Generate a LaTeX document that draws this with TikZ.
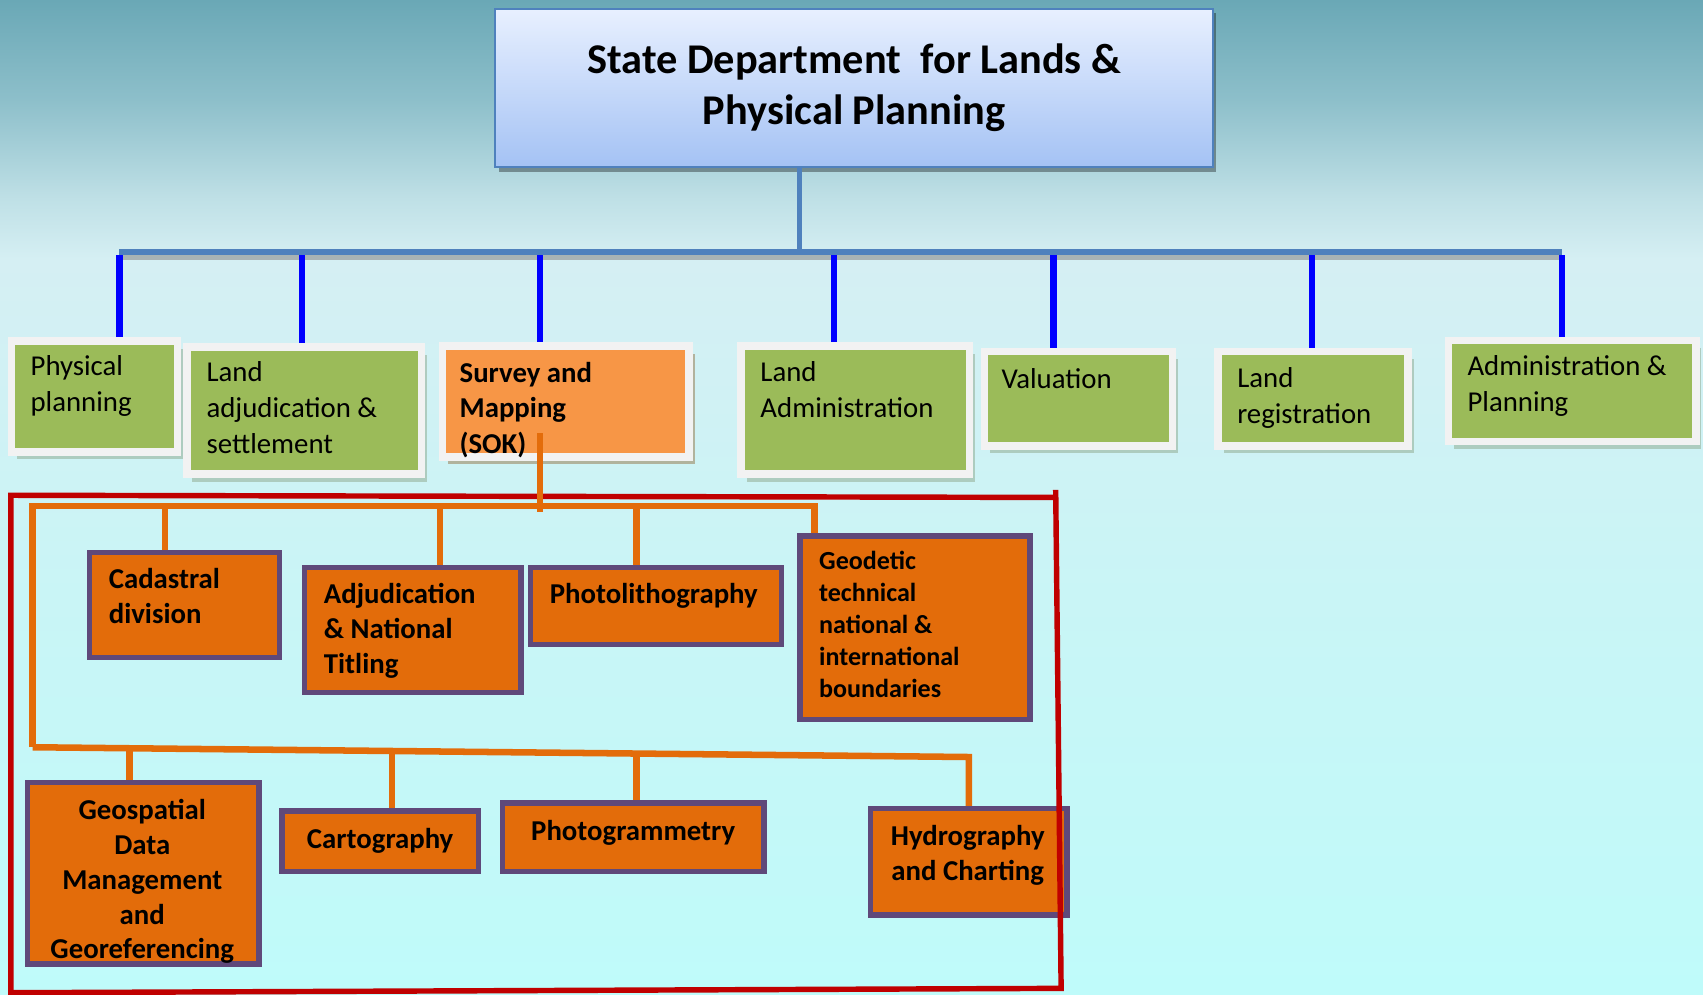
\documentclass[tikz,border=0pt]{standalone}
\usepackage{fontspec}
\setmainfont{Carlito}
\usetikzlibrary{shadows}

\definecolor{bgtop}{HTML}{6AA8B6}
\definecolor{bgsky}{HTML}{8DBFCA}
\definecolor{bgpale}{HTML}{BFE0E6}
\definecolor{bglight}{HTML}{D5EFF3}
\definecolor{bgmid}{HTML}{C9F5F6}
\definecolor{bgbot}{HTML}{BFFBFA}
\definecolor{headtop}{HTML}{E8F0FF}
\definecolor{headbot}{HTML}{A4C2F4}
\definecolor{headedge}{HTML}{4F81BD}
\definecolor{unitgreen}{HTML}{9BBB59}
\definecolor{framegray}{HTML}{F2F2F2}
\definecolor{greenshade}{HTML}{8EA78B}
\definecolor{sokorange}{HTML}{F79646}
\definecolor{sokshade}{HTML}{B59B7C}
\definecolor{deptorange}{HTML}{E36C0A}
\definecolor{deptpurple}{HTML}{5F497A}
\definecolor{framered}{HTML}{C00000}

\pgfdeclareverticalshading{skyfade}{100bp}{color(0bp)=(bgbot); color(25bp)=(bgbot); color(45bp)=(bgmid); color(62bp)=(bglight); color(65bp)=(bgpale); color(70bp)=(bgsky); color(75bp)=(bgtop); color(100bp)=(bgtop)}

\tikzset{
  headbox/.style={rectangle, draw=headedge, line width=2pt, top color=headtop, bottom color=headbot,
    font=\bfseries\fontsize{39}{47}\selectfont, align=center, inner sep=0pt,
    drop shadow={shadow xshift=3pt, shadow yshift=-4pt, fill=black, opacity=0.35}},
  unitbox/.style={rectangle, draw=framegray, line width=7pt, fill=unitgreen, inner sep=0pt,
    drop shadow={shadow xshift=5pt, shadow yshift=-7pt, fill=greenshade}},
  sokbox/.style={unitbox, fill=sokorange,
    drop shadow={shadow xshift=5pt, shadow yshift=-7pt, fill=sokshade}},
  unittext/.style={font=\fontsize{26.5}{33}\selectfont, align=left, inner sep=0pt, anchor=north west},
  deptbox/.style={rectangle, draw=deptpurple, line width=5pt, fill=deptorange, inner sep=0pt},
  depttext/.style={font=\bfseries\fontsize{26.5}{32}\selectfont, align=left, inner sep=0pt, anchor=north west},
  stem/.style={draw=headedge, line width=5pt},
  stemshade/.style={draw=black!45, line width=4pt, opacity=0.6},
  drop/.style={draw=blue, line width=6pt},
  obranch/.style={draw=deptorange, line width=6pt, line join=miter},
  redframe/.style={draw=framered, line width=5pt}
}

\begin{document}
\begin{tikzpicture}[x=1pt, y=-1pt]
		%%%%% BACKGROUND %%%%%
		\useasboundingbox (0,0) rectangle (1568,916);
		\shade[shading=skyfade] (0,0) rectangle (1568,916);
		
		%%%%% HEAD %%%%%
		\node[headbox, minimum width=661pt, minimum height=146pt] (head) at (786.5,81) {State Department\ \ for Lands \&\\Physical Planning};
		
		\coordinate (hub) at (736,232);
		\coordinate (busL) at (110,232);
		\coordinate (busR) at (1438,232);
		
		%%%%% UNITS %%%%%
		\node[unitbox, minimum width=153pt, minimum height=102pt] (phys) at (87,365) {};
		\node[unittext] (physT) at (28,327) {Physical\\planning};
		
		\node[unitbox, minimum width=216pt, minimum height=117pt] (adjset) at (280,378) {};
		\node[unittext] (adjsetT) at (190,333) {Land\\adjudication \&\\settlement};
		
		\node[sokbox, minimum width=227pt, minimum height=102pt] (sok) at (521,369.5) {};
		\node[unittext, font=\bfseries\fontsize{26.5}{33}\selectfont] (sokT) at (423,333) {Survey and\\Mapping\\(SOK)};
		
		\node[unitbox, minimum width=210pt, minimum height=118pt] (landadm) at (787.5,377.5) {};
		\node[unittext] (landadmT) at (700,333) {Land\\Administration};
		
		\node[unitbox, minimum width=173pt, minimum height=87pt] (valu) at (993,367) {};
		\node[unittext] (valuT) at (922,339) {Valuation};
		
		\node[unitbox, minimum width=175pt, minimum height=87pt] (landreg) at (1209,367) {};
		\node[unittext] (landregT) at (1139,338) {Land\\registration};
		
		\node[unitbox, minimum width=228pt, minimum height=93pt] (admplan) at (1447.5,360) {};
		\node[unittext] (admplanT) at (1351,327) {Administration \&\\Planning};
		
		%%%%% BLUE LINKS %%%%%
		\draw[stem] (hub |- head.south) -- (hub);
		\draw[stemshade] ([yshift=-5pt]busL) -- ([yshift=-5pt]busR);
		\draw[stem] (busL) -- (busR);
		\foreach \x/\b in {110/phys, 278/adjset, 497/sok, 768/landadm, 970/valu, 1208/landreg, 1438/admplan}
			\draw[drop] (\x,235) -- (\x,235 |- \b.north);
		
		%%%%% SURVEY DIVISIONS %%%%%
		\node[deptbox, minimum width=175pt, minimum height=97pt] (cad) at (170,557) {};
		\node[depttext] (cadT) at (100,523) {Cadastral\\division};
		
		\node[deptbox, minimum width=199pt, minimum height=115pt] (adjnt) at (380,580) {};
		\node[depttext] (adjntT) at (298,537) {Adjudication\\\& National\\Titling};
		
		\node[deptbox, minimum width=231pt, minimum height=71pt] (plith) at (604,558) {};
		\node[depttext] (plithT) at (506,537) {Photolithography};
		
		\node[deptbox, minimum width=212pt, minimum height=169pt] (geod) at (842.5,578) {};
		\node[depttext, font=\bfseries\fontsize{24}{29.5}\selectfont] (geodT) at (754,507) {Geodetic\\technical\\national \&\\international\\boundaries};
		
		\node[deptbox, minimum width=213pt, minimum height=167pt] (geosp) at (132,804) {};
		\node[depttext, align=center, anchor=north] (geospT) at (131,736) {Geospatial\\Data\\Management\\and\\Georeferencing};
		
		\node[deptbox, minimum width=181pt, minimum height=56pt] (carto) at (350,774.5) {};
		\node[depttext, anchor=north] (cartoT) at (350,762) {Cartography};
		
		\node[deptbox, minimum width=241pt, minimum height=63pt] (pgram) at (583,771) {};
		\node[depttext, anchor=north] (pgramT) at (583,755) {Photogrammetry};
		
		\node[deptbox, minimum width=181pt, minimum height=98pt] (hydro) at (892,793.5) {};
		\node[depttext, align=center, anchor=north] (hydroT) at (891,760) {Hydrography\\and Charting};
		
		%%%%% RED FRAME %%%%%
		\draw[redframe] (10,916) -- (10,456) -- (972,458);
		\draw[redframe] (972,451) -- (977,910) -- (12,914);
		
		%%%%% ORANGE LINKS %%%%%
		\coordinate (sokdrop) at (497,399);
		\coordinate (obusL) at (30,466);
		\coordinate (obusR) at (750,466);
		\coordinate (lbusL) at (30,688);
		\coordinate (lbusR) at (892,697);
		
		\draw[obranch] (sokdrop) -- (sokdrop |- obusL) -- ++(0,5);
		\draw[obranch] (lbusL) -- (obusL) -- (obusR) -- (obusR |- geod.north);
		\foreach \x/\b in {152/cad, 405/adjnt, 586/plith}
			\draw[obranch] (\x,466) -- (\x,466 |- \b.north);
		\draw[obranch] (lbusL) -- (lbusR) -- (lbusR |- hydro.north);
		\foreach \x/\y/\b in {119/689/geosp, 361/691.5/carto, 586/694/pgram}
			\draw[obranch] (\x,\y) -- (\x,\y |- \b.north);
		
	\end{tikzpicture}
\end{document}
